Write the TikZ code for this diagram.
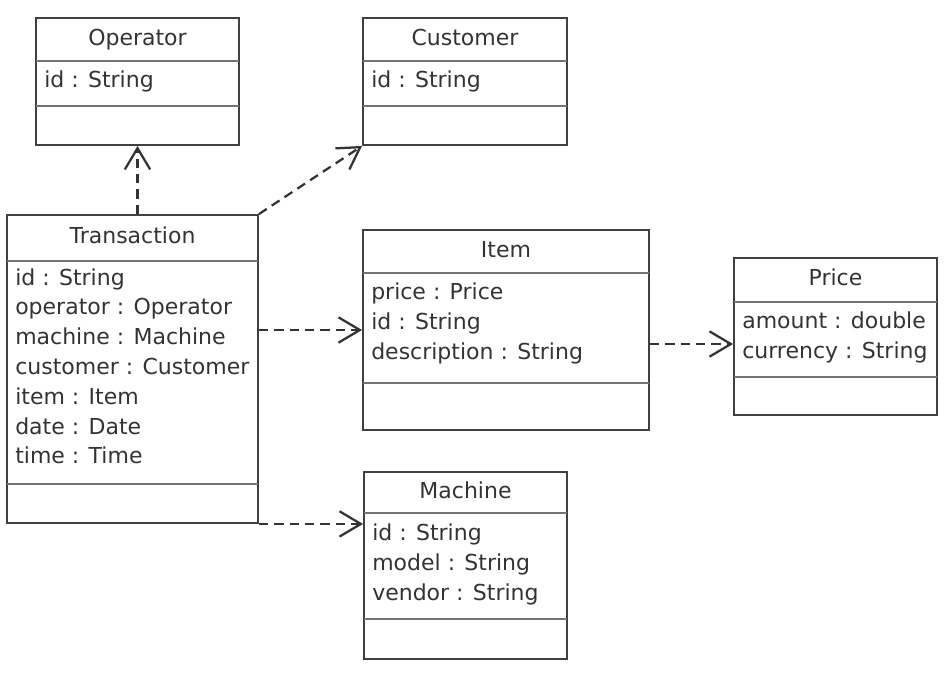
\documentclass[tikz,border=0pt]{standalone}
\usepackage{fontspec}
\setmainfont{DejaVu Sans}
\usetikzlibrary{arrows.meta,fit}

\tikzset{
  classbox/.style={draw=black!75, line width=1.4pt, inner sep=0pt},
  sep/.style={draw=black!55, line width=1pt},
  title/.style={inner sep=0pt, text=black!80, text height=1.5ex, text depth=.3ex},
  attr/.style={anchor=west, inner sep=0pt, text=black!80, text height=1.5ex, text depth=.3ex},
  dep/.style={draw=black!80, line width=1.7pt, dash pattern=on 7pt off 4.5pt,
    -{Straight Barb[length=16pt,width=19pt]}}
}

\begin{document}
\begin{tikzpicture}[x=0.75pt,y=-0.75pt,font=\fontsize{16.5}{20}\selectfont]
  \useasboundingbox (0,0) rectangle (949,686);
  % Operator
  \node[classbox, fit={(36,18) (239,145)}] (op) {};
  \node[title] at (137.5,41) {Operator};
  \draw[sep] (36,61) -- (239,61);
  \draw[sep] (36,106) -- (239,106);
  \node[attr] at (44,83) {id : String};
  % Customer
  \node[classbox, fit={(363,18) (567,145)}] (cu) {};
  \node[title] at (465,41) {Customer};
  \draw[sep] (363,61) -- (567,61);
  \draw[sep] (363,106) -- (567,106);
  \node[attr] at (371,83) {id : String};
  % Transaction
  \node[classbox, fit={(7,215) (258,523)}] (tr) {};
  \node[title] at (132.5,239.5) {Transaction};
  \draw[sep] (7,261) -- (258,261);
  \draw[sep] (7,484) -- (258,484);
  \foreach \a [count=\i] in {id : String, operator : Operator, machine : Machine,
      customer : Customer, item : Item, date : Date, time : Time} {
    \node[attr] at (15,251+29.8*\i) {\a};
  }
  % Item
  \node[classbox, fit={(363,230) (649,430)}] (it) {};
  \node[title] at (506,253) {Item};
  \draw[sep] (363,273) -- (649,273);
  \draw[sep] (363,383) -- (649,383);
  \foreach \a [count=\i] in {price : Price, id : String, description : String} {
    \node[attr] at (371,265+30*\i) {\a};
  }
  % Price
  \node[classbox, fit={(734,258) (937,415)}] (pr) {};
  \node[title] at (835.5,281.5) {Price};
  \draw[sep] (734,302) -- (937,302);
  \draw[sep] (734,377) -- (937,377);
  \foreach \a [count=\i] in {amount : double, currency : String} {
    \node[attr] at (742,294+30*\i) {\a};
  }
  % Machine
  \node[classbox, fit={(364,472) (567,659)}] (ma) {};
  \node[title] at (465.5,494) {Machine};
  \draw[sep] (364,513) -- (567,513);
  \draw[sep] (364,619) -- (567,619);
  \foreach \a [count=\i] in {id : String, model : String, vendor : String} {
    \node[attr] at (372,506+30*\i) {\a};
  }
  % dependencies
  \draw[dep] (op.south |- tr.north) -- (op.south);
  \draw[dep] (tr.north east) -- (cu.south west);
  \draw[dep] (tr.east |- it.west) -- (it.west);
  \draw[dep] (it.east |- 0,344) -- (pr.west |- 0,344);
  \draw[dep] (tr.south east) -- (tr.south east -| ma.west);
\end{tikzpicture}
\end{document}
